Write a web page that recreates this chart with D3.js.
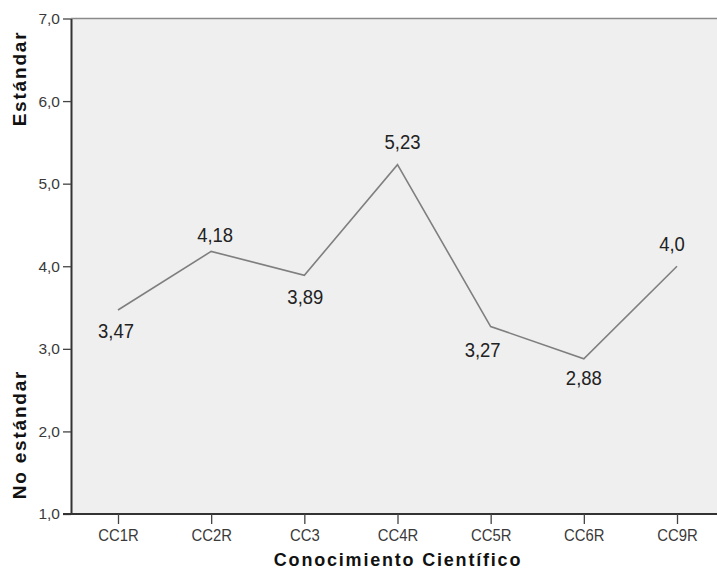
<!DOCTYPE html>
<html>
<head>
<meta charset="utf-8">
<script src="https://cdn.jsdelivr.net/npm/d3@7"></script>
<style>
  html, body { margin: 0; padding: 0; background: #ffffff; }
  svg { display: block; }
</style>
</head>
<body>
<svg id="chart" width="717" height="569"></svg>
<script>
// ---- data ----
const categories = ["CC1R", "CC2R", "CC3", "CC4R", "CC5R", "CC6R", "CC9R"];
const values = [3.47, 4.18, 3.89, 5.23, 3.27, 2.88, 4.0];
const valueLabels = ["3,47", "4,18", "3,89", "5,23", "3,27", "2,88", "4,0"];
const yTicks = [1, 2, 3, 4, 5, 6, 7];
const yTickLabels = ["1,0", "2,0", "3,0", "4,0", "5,0", "6,0", "7,0"];
const xTitle = "Conocimiento Científico";
const yTitleHigh = "Estándar";
const yTitleLow = "No estándar";
// label placement (style, not data)
const labelDx = [-2, 4, 1, 5, -8, 0, -5];
const labelDy = [28, -9, 29, -16, 30, 26, -15];

// ---- layout ----
const svg = d3.select("#chart");
const plot = { left: 71, top: 18.5, right: 727, bottom: 514 };
const FONT = "Arial, 'Liberation Sans', sans-serif";

const x = d3.scalePoint().domain(categories).range([118, 677]);
const y = d3.scaleLinear().domain([1, 7]).range([plot.bottom, plot.top]);

// background
svg.append("rect")
  .attr("x", plot.left).attr("y", plot.top)
  .attr("width", plot.right - plot.left).attr("height", plot.bottom - plot.top)
  .attr("fill", "#efefef");

// top frame line
svg.append("line")
  .attr("x1", plot.left).attr("x2", plot.right)
  .attr("y1", plot.top).attr("y2", plot.top)
  .attr("stroke", "#8a8a8a").attr("stroke-width", 1.5);

// y axis
const yAxis = d3.axisLeft(y)
  .tickValues(yTicks)
  .tickFormat((d, i) => yTickLabels[i])
  .tickSizeInner(8).tickSizeOuter(0).tickPadding(3);
const gy = svg.append("g").attr("transform", `translate(${plot.left},0)`).call(yAxis);
gy.select(".domain").attr("stroke", "#333").attr("stroke-width", 2);
gy.selectAll(".tick line").attr("stroke", "#444").attr("stroke-width", 1.3);
gy.selectAll(".tick text")
  .attr("font-family", FONT)
  .attr("font-size", 15.5).attr("fill", "#3a3a3a");

// x axis
const xAxis = d3.axisBottom(x).tickSizeInner(10).tickSizeOuter(0).tickPadding(6);
const gx = svg.append("g").attr("transform", `translate(0,${plot.bottom})`).call(xAxis);
gx.select(".domain").attr("stroke", "#333").attr("stroke-width", 2)
  .attr("d", `M${plot.left - 8},0H${plot.right}`);
gx.selectAll(".tick line").attr("stroke", "#444").attr("stroke-width", 1.3);
gx.selectAll(".tick text")
  .attr("font-family", FONT)
  .attr("font-size", 16).attr("fill", "#3a3a3a")
  .attr("transform", "scale(0.93,1)")
  .attr("x", 0);
gx.selectAll(".tick").each(function () {
  const t = d3.select(this).select("text");
  t.attr("transform", "scale(0.93,1)");
});

// line
const line = d3.line()
  .x((d, i) => x(categories[i]))
  .y(d => y(d));
svg.append("path")
  .datum(values)
  .attr("d", line)
  .attr("fill", "none")
  .attr("stroke", "#7f7f7f")
  .attr("stroke-width", 1.6);

// value labels
svg.append("g").selectAll("text")
  .data(values)
  .join("text")
  .attr("transform", (d, i) =>
    `translate(${x(categories[i]) + labelDx[i]},${y(d) + labelDy[i]}) scale(0.88,1)`)
  .attr("text-anchor", "middle")
  .attr("font-family", FONT)
  .attr("font-size", 21)
  .attr("fill", "#222")
  .text((d, i) => valueLabels[i]);

// axis titles
svg.append("text")
  .attr("x", 398).attr("y", 566)
  .attr("text-anchor", "middle")
  .attr("font-family", FONT)
  .attr("font-weight", "bold")
  .attr("font-size", 18)
  .attr("letter-spacing", 1.8)
  .attr("fill", "#111")
  .text(xTitle);

svg.append("text")
  .attr("transform", "translate(26,78.5) rotate(-90)")
  .attr("text-anchor", "middle")
  .attr("font-family", FONT)
  .attr("font-weight", "bold")
  .attr("font-size", 19)
  .attr("letter-spacing", 1.8)
  .attr("fill", "#111")
  .text(yTitleHigh);

svg.append("text")
  .attr("transform", "translate(26,434.5) rotate(-90)")
  .attr("text-anchor", "middle")
  .attr("font-family", FONT)
  .attr("font-weight", "bold")
  .attr("font-size", 19)
  .attr("letter-spacing", 1.8)
  .attr("fill", "#111")
  .text(yTitleLow);
</script>
</body>
</html>
